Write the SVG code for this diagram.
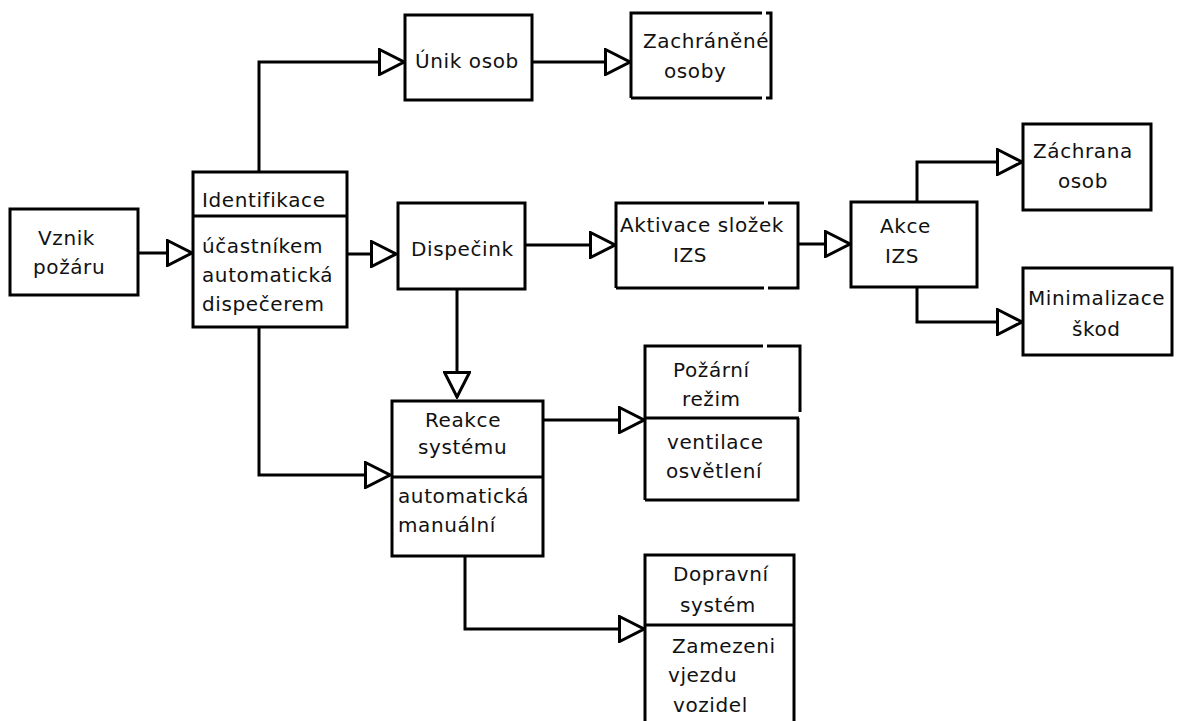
<svg xmlns="http://www.w3.org/2000/svg" width="1181" height="721" viewBox="0 0 1181 721">
<style>
.box{fill:#fff;stroke:#000;stroke-width:3}
.edge{fill:none;stroke:#000;stroke-width:3}
.div{stroke:#000;stroke-width:3}
.conn{fill:none;stroke:#000;stroke-width:3}
text{font-family:"DejaVu Sans","Liberation Sans",sans-serif;font-size:20px;letter-spacing:0.6px;fill:#111}
</style>
<defs>
<marker id="tri" viewBox="0 0 28 28" refX="26" refY="14" markerWidth="28" markerHeight="28" markerUnits="userSpaceOnUse" orient="auto">
<path d="M1.5,1.5 L26,14 L1.5,26.5 Z" fill="#fff" stroke="#000" stroke-width="3" stroke-linejoin="miter"/>
</marker>
</defs>
<rect width="1181" height="721" fill="#fff"/>
<g id="connectors">
<path class="conn" d="M138,253 H192" marker-end="url(#tri)"/>
<path class="conn" d="M259,172 V62 H404" marker-end="url(#tri)"/>
<path class="conn" d="M533,62 H630" marker-end="url(#tri)"/>
<path class="conn" d="M347,254 H396" marker-end="url(#tri)"/>
<path class="conn" d="M525,245 H615" marker-end="url(#tri)"/>
<path class="conn" d="M799,244 H850" marker-end="url(#tri)"/>
<path class="conn" d="M917,202 V162 H1022" marker-end="url(#tri)"/>
<path class="conn" d="M917,287 V322 H1022" marker-end="url(#tri)"/>
<path class="conn" d="M457,290 V397" marker-end="url(#tri)"/>
<path class="conn" d="M259,327 V475 H390" marker-end="url(#tri)"/>
<path class="conn" d="M543,420 H644" marker-end="url(#tri)"/>
<path class="conn" d="M465,556 V629 H644" marker-end="url(#tri)"/>
</g>
<g id="vznik">
<rect class="box" x="10" y="209" width="128" height="86"/>
<text x="38" y="245">Vznik</text>
<text x="33" y="274">požáru</text>
</g>
<g id="identifikace">
<rect class="box" x="193" y="172" width="154" height="155"/>
<line class="div" x1="193" y1="216" x2="347" y2="216"/>
<text x="202" y="207">Identifikace</text>
<text x="202" y="253">účastníkem</text>
<text x="202" y="282">automatická</text>
<text x="202" y="311">dispečerem</text>
</g>
<g id="unik">
<rect class="box" x="405" y="15" width="127" height="85"/>
<text x="415" y="68">Únik osob</text>
</g>
<g id="zachranene">
<rect x="631" y="13" width="140" height="85" fill="#fff"/>
<text x="643" y="48">Zachráněné</text>
<text x="664" y="78">osoby</text>
<path class="edge" d="M631,98 V13 H762 M766,13 H771 V98 H766 M762,98 H631"/>
</g>
<g id="dispecink">
<rect class="box" x="398" y="203" width="127" height="86"/>
<text x="411" y="256">Dispečink</text>
</g>
<g id="aktivace">
<rect x="616" y="203" width="182" height="85" fill="#fff"/>
<text x="620" y="232">Aktivace složek</text>
<text x="673" y="262">IZS</text>
<path class="edge" d="M616,288 V203 H764 M768,203 H798 V288 H768 M764,288 H616"/>
</g>
<g id="akce">
<rect class="box" x="851" y="202" width="126" height="85"/>
<text x="880" y="233">Akce</text>
<text x="885" y="263">IZS</text>
</g>
<g id="zachrana">
<rect class="box" x="1023" y="124" width="128" height="86"/>
<text x="1033" y="158">Záchrana</text>
<text x="1058" y="188">osob</text>
</g>
<g id="minimalizace">
<rect class="box" x="1023" y="268" width="149" height="87"/>
<text x="1028" y="305">Minimalizace</text>
<text x="1072" y="336">škod</text>
</g>
<g id="reakce">
<rect class="box" x="392" y="401" width="151" height="155"/>
<line class="div" x1="392" y1="477" x2="543" y2="477"/>
<text x="425" y="427">Reakce</text>
<text x="418" y="454">systému</text>
<text x="398" y="503">automatická</text>
<text x="398" y="532">manuální</text>
</g>
<g id="pozarni">
<rect x="645" y="346" width="154" height="154" fill="#fff"/>
<line class="div" x1="645" y1="418" x2="799" y2="418"/>
<text x="673" y="377">Požární</text>
<text x="682" y="406">režim</text>
<text x="667" y="449">ventilace</text>
<text x="666" y="478">osvětlení</text>
<path class="edge" d="M645,500 V346 H763 M767,346 H800 V412 M798,418 V500 H645"/>
</g>
<g id="dopravni">
<rect class="box" x="645" y="555" width="149" height="170"/>
<line class="div" x1="645" y1="625" x2="794" y2="625"/>
<text x="673" y="581">Dopravní</text>
<text x="680" y="612">systém</text>
<text x="672" y="653">Zamezeni</text>
<text x="668" y="682">vjezdu</text>
<text x="673" y="712">vozidel</text>
</g>
</svg>
